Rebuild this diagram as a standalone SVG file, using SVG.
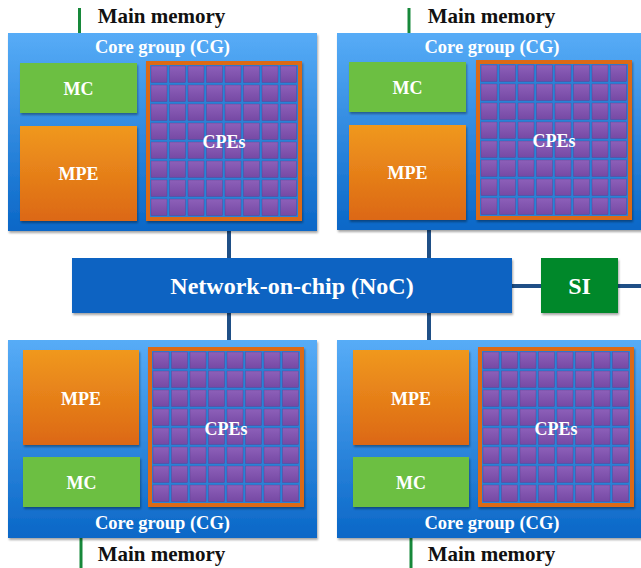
<svg xmlns="http://www.w3.org/2000/svg" xmlns:xlink="http://www.w3.org/1999/xlink" width="641" height="568" viewBox="0 0 641 568">
<style>
.cg{fill:url(#cgGrad);filter:url(#sh)}
.mc{fill:#6cbf43;filter:url(#sh)}
.mpe{fill:url(#mpeGrad);filter:url(#sh)}
.wt{font-family:"Liberation Serif","Times New Roman",serif;font-weight:bold;fill:#ffffff;text-anchor:middle}
.bt{font-family:"Liberation Serif","Times New Roman",serif;font-weight:bold;fill:#111111;text-anchor:middle;font-size:21px}
.s18{font-size:18px}
.s185{font-size:18.5px}
.s24{font-size:24px}
.mem{stroke:#17883a;stroke-width:3;fill:none}
.bus{stroke:#1f4f86;stroke-width:4;fill:none}
.cell{fill:url(#cellGrad);stroke:#5a3a8a;stroke-width:0.5;stroke-opacity:0.7}
</style>
<defs>
<linearGradient id="cgGrad" x1="0" y1="0" x2="0" y2="1">
<stop offset="0" stop-color="#57acf7"/>
<stop offset="1" stop-color="#0a67c7"/>
</linearGradient>
<linearGradient id="mpeGrad" x1="0" y1="0" x2="0" y2="1">
<stop offset="0" stop-color="#f0981f"/>
<stop offset="1" stop-color="#dc6813"/>
</linearGradient>
<linearGradient id="cellGrad" x1="0" y1="0" x2="0" y2="1">
<stop offset="0" stop-color="#8d60b9"/>
<stop offset="1" stop-color="#7649a4"/>
</linearGradient>
<filter id="sh" x="-5%" y="-5%" width="112%" height="115%">
<feDropShadow dx="1" dy="2" stdDeviation="1.2" flood-color="#000" flood-opacity="0.35"/>
</filter>
<g id="row">
<rect class="cell" x="5" y="0" width="16" height="16.5"/>
<rect class="cell" x="23.5" y="0" width="16" height="16.5"/>
<rect class="cell" x="42" y="0" width="16" height="16.5"/>
<rect class="cell" x="60.5" y="0" width="16" height="16.5"/>
<rect class="cell" x="79" y="0" width="16" height="16.5"/>
<rect class="cell" x="97.5" y="0" width="16" height="16.5"/>
<rect class="cell" x="116" y="0" width="16" height="16.5"/>
<rect class="cell" x="134.5" y="0" width="16" height="16.5"/>
</g>
<g id="grid">
<rect x="2" y="2" width="152" height="156" fill="#2a82d6" stroke="#dc6a17" stroke-width="4" filter="url(#sh)"/>
<use xlink:href="#row" y="5"/>
<use xlink:href="#row" y="24"/>
<use xlink:href="#row" y="43"/>
<use xlink:href="#row" y="62"/>
<use xlink:href="#row" y="81"/>
<use xlink:href="#row" y="100"/>
<use xlink:href="#row" y="119"/>
<use xlink:href="#row" y="138"/>
</g>
</defs>
<rect width="641" height="568" fill="#ffffff"/>

<g id="connectors">
<line class="mem" x1="79.5" y1="8" x2="79.5" y2="63"/>
<line class="mem" x1="409" y1="8" x2="409" y2="62"/>
<line class="mem" x1="81" y1="507" x2="81" y2="568"/>
<line class="mem" x1="411" y1="507" x2="411" y2="568"/>
<line class="bus" x1="229" y1="231" x2="229" y2="258"/>
<line class="bus" x1="429" y1="230" x2="429" y2="258"/>
<line class="bus" x1="229" y1="313" x2="229" y2="340"/>
<line class="bus" x1="429" y1="313" x2="429" y2="340"/>
<line class="bus" x1="512" y1="286" x2="541" y2="286"/>
<line class="bus" x1="618" y1="286" x2="641" y2="286"/>
</g>

<g id="cg-top-left">
<rect class="cg" x="8" y="33" width="309" height="198"/>
<text class="wt s185" x="162.5" y="53">Core group (CG)</text>
<text class="bt" x="161.5" y="23">Main memory</text>
<g id="mc-top-left"><rect class="mc" x="20" y="63" width="117" height="50"/><text class="wt s18" x="78.5" y="95">MC</text></g>
<g id="mpe-top-left"><rect class="mpe" x="20" y="126" width="117" height="95"/><text class="wt s18" x="78.5" y="180">MPE</text></g>
<g id="cpes-top-left"><use xlink:href="#grid" x="146" y="61"/><text class="wt s18" x="224" y="148">CPEs</text></g>
</g>

<g id="cg-top-right">
<rect class="cg" x="337" y="33" width="310" height="197"/>
<text class="wt s185" x="492" y="53">Core group (CG)</text>
<text class="bt" x="491.5" y="23">Main memory</text>
<g id="mc-top-right"><rect class="mc" x="349" y="62" width="117" height="50"/><text class="wt s18" x="407.5" y="94">MC</text></g>
<g id="mpe-top-right"><rect class="mpe" x="349" y="125" width="117" height="95"/><text class="wt s18" x="407.5" y="179">MPE</text></g>
<g id="cpes-top-right"><use xlink:href="#grid" x="476" y="60"/><text class="wt s18" x="554" y="147">CPEs</text></g>
</g>

<g id="noc">
<rect x="72" y="258" width="440" height="55" fill="#0b63c2" filter="url(#sh)"/>
<text class="wt s24" x="292" y="294">Network-on-chip (NoC)</text>
</g>

<g id="si">
<rect x="541" y="258" width="77" height="55" fill="#00882c" filter="url(#sh)"/>
<text class="wt s24" x="579.5" y="294">SI</text>
</g>

<g id="cg-bottom-left">
<rect class="cg" x="8" y="340" width="309" height="198"/>
<text class="wt s185" x="162.5" y="529">Core group (CG)</text>
<text class="bt" x="161.5" y="561">Main memory</text>
<g id="mpe-bottom-left"><rect class="mpe" x="23" y="350" width="116" height="95"/><text class="wt s18" x="81" y="405">MPE</text></g>
<g id="mc-bottom-left"><rect class="mc" x="23" y="457" width="117" height="50"/><text class="wt s18" x="81.5" y="489">MC</text></g>
<g id="cpes-bottom-left"><use xlink:href="#grid" x="148" y="347"/><text class="wt s18" x="226" y="435">CPEs</text></g>
</g>

<g id="cg-bottom-right">
<rect class="cg" x="337" y="340" width="310" height="198"/>
<text class="wt s185" x="492" y="529">Core group (CG)</text>
<text class="bt" x="491.5" y="561">Main memory</text>
<g id="mpe-bottom-right"><rect class="mpe" x="353" y="350" width="116" height="95"/><text class="wt s18" x="411" y="405">MPE</text></g>
<g id="mc-bottom-right"><rect class="mc" x="353" y="457" width="116" height="50"/><text class="wt s18" x="411" y="489">MC</text></g>
<g id="cpes-bottom-right"><use xlink:href="#grid" x="478" y="347"/><text class="wt s18" x="556" y="435">CPEs</text></g>
</g>
</svg>
